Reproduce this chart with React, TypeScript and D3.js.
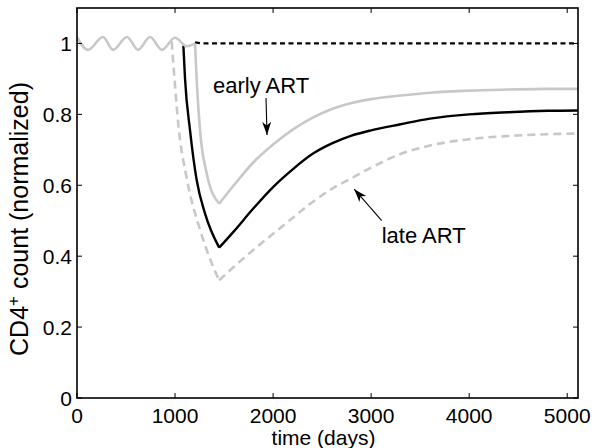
import React from 'react';
import * as d3 from 'd3';

// ---- data ----
const xTickValues = [0, 1000, 2000, 3000, 4000, 5000];
const xTickLabels = ['0', '1000', '2000', '3000', '4000', '5000'];
const yTickValues = [0, 0.2, 0.4, 0.6, 0.8, 1];
const yTickLabels = ['0', '0.2', '0.4', '0.6', '0.8', '1'];

// shared pre-treatment oscillation (peaks and troughs)
const waveDays = [0, 112, 265, 367, 510, 622, 745, 867, 1000, 1122, 1204];
const waveValues = [1.018, 0.982, 1.018, 0.982, 1.018, 0.982, 1.018, 0.982, 1.016, 0.992, 1.0];

// uninfected / control (black dashed)
const controlDays = [1204, 1300, 2000, 3000, 4000, 5110];
const controlValues = [1.003, 1.0, 1.0, 1.0, 1.0, 1.0];

// early ART (grey solid)
const earlyDays = [1204, 1221, 1255, 1323, 1450, 1600, 1800, 2000, 2200, 2400, 2600, 2800, 3000, 3300, 3600, 4000, 4400, 4800, 5110];
const earlyValues = [1.0, 0.896, 0.755, 0.633, 0.548, 0.6, 0.665, 0.715, 0.757, 0.79, 0.815, 0.832, 0.843, 0.853, 0.861, 0.867, 0.87, 0.872, 0.872];

// intermediate (black solid)
const midDays = [1085, 1102, 1153, 1221, 1306, 1450, 1600, 1800, 2000, 2200, 2400, 2600, 2800, 3000, 3300, 3600, 4000, 4400, 4800, 5110];
const midValues = [0.994, 0.9, 0.755, 0.614, 0.52, 0.424, 0.47, 0.535, 0.595, 0.645, 0.688, 0.718, 0.74, 0.755, 0.772, 0.788, 0.8, 0.806, 0.81, 0.811];

// late ART (grey dashed)
const lateDays = [966, 1000, 1034, 1119, 1255, 1374, 1450, 1600, 1800, 2000, 2200, 2400, 2600, 2800, 3000, 3300, 3600, 4000, 4400, 4800, 5110];
const lateValues = [1.005, 0.88, 0.77, 0.62, 0.475, 0.38, 0.332, 0.37, 0.418, 0.463, 0.508, 0.552, 0.59, 0.62, 0.65, 0.688, 0.712, 0.73, 0.739, 0.744, 0.746];

// annotations (data coordinates)
const annotations = [
  { text: 'early ART', tx: 1387, ty: 0.8603, ax1: 1928, ay1: 0.846, ax2: 1938, ay2: 0.742 },
  { text: 'late ART', tx: 3108, ty: 0.438, ax1: 3108, ay1: 0.5, ax2: 2828, ay2: 0.589 },
];

const W = 594;
const H = 448;
const GREY = '#c8c8c8';
const FONT = '"Liberation Sans", Arial, Helvetica, sans-serif';

export default function App() {
  const x = d3.scaleLinear().domain([0, 5110]).range([77, 578]);
  const y = d3.scaleLinear().domain([0, 1.1]).range([398, 8]);

  const line = d3
    .line<[number, number]>()
    .x((d) => x(d[0]))
    .y((d) => y(d[1]))
    .curve(d3.curveMonotoneX);

  const toPts = (days: number[], vals: number[]) =>
    days.map((d, i) => [d, vals[i]] as [number, number]);

  // split at the minimum so the V stays sharp
  const splitPath = (days: number[], vals: number[]) => {
    const pts = toPts(days, vals);
    const k = d3.minIndex(vals);
    return (line(pts.slice(0, k + 1)) || '') + (line(pts.slice(k)) || '');
  };

  const [x0, x1] = x.range();
  const [yb, yt] = y.range();
  const tickLen = 5;

  const arrowHead = (x1p: number, y1p: number, x2p: number, y2p: number) => {
    const ang = Math.atan2(y2p - y1p, x2p - x1p);
    const L = 13;
    const Wd = 4.5;
    const notch = 9.5;
    const c = Math.cos(ang);
    const s = Math.sin(ang);
    const p = (u: number, v: number) => [x2p - u * c - v * -s, y2p - u * s - v * c];
    const pts = [p(0, 0), p(L, Wd), p(notch, 0), p(L, -Wd)];
    return 'M' + pts.map((q) => q.join(',')).join('L') + 'Z';
  };

  return (
    <svg
      width={W}
      height={H}
      style={{ position: 'absolute', left: 0, top: 0, background: '#fff' }}
      fontFamily={FONT}
    >
      <rect x={0} y={0} width={W} height={H} fill="#fff" />

      {/* curves */}
      <path d={line(toPts(controlDays, controlValues)) || ''} fill="none" stroke="#000" strokeWidth={2.3} strokeDasharray="5,3.5" />
      <path d={splitPath(lateDays, lateValues)} fill="none" stroke={GREY} strokeWidth={2.6} strokeDasharray="8,5" />
      <path d={splitPath(midDays, midValues)} fill="none" stroke="#000" strokeWidth={2.4} />
      <path d={splitPath(earlyDays, earlyValues)} fill="none" stroke={GREY} strokeWidth={2.6} />
      <path d={line(toPts(waveDays, waveValues)) || ''} fill="none" stroke={GREY} strokeWidth={2.6} />

      {/* axes box */}
      <rect x={x0} y={yt} width={x1 - x0} height={yb - yt} fill="none" stroke="#000" strokeWidth={1.6} />

      {/* x ticks */}
      {xTickValues.map((v, i) => (
        <g key={'xt' + i}>
          <line x1={x(v)} x2={x(v)} y1={yb} y2={yb - tickLen} stroke="#000" strokeWidth={1} />
          <line x1={x(v)} x2={x(v)} y1={yt} y2={yt + tickLen} stroke="#000" strokeWidth={1} />
          <text x={x(v)} y={423} textAnchor="middle" fontSize={21}>
            {xTickLabels[i]}
          </text>
        </g>
      ))}

      {/* y ticks */}
      {yTickValues.map((v, i) => (
        <g key={'yt' + i}>
          <line x1={x0} x2={x0 + tickLen} y1={y(v)} y2={y(v)} stroke="#000" strokeWidth={1} />
          <line x1={x1} x2={x1 - tickLen} y1={y(v)} y2={y(v)} stroke="#000" strokeWidth={1} />
          <text x={72} y={y(v)} dy="0.36em" textAnchor="end" fontSize={21}>
            {yTickLabels[i]}
          </text>
        </g>
      ))}

      {/* axis labels */}
      <text x={(x0 + x1) / 2 - 4} y={445} textAnchor="middle" fontSize={21}>
        time (days)
      </text>
      <text transform="translate(28,219) rotate(-90)" textAnchor="middle" fontSize={25}>
        CD4
        <tspan dy="-9" fontSize={17}>+</tspan>
        <tspan dy="9"> count (normalized)</tspan>
      </text>

      {/* annotations */}
      {annotations.map((a, i) => {
        const sx = x(a.ax1);
        const sy = y(a.ay1);
        const ex = x(a.ax2);
        const ey = y(a.ay2);
        return (
          <g key={'an' + i}>
            <text x={x(a.tx)} y={y(a.ty)} fontSize={22}>
              {a.text}
            </text>
            <line x1={sx} y1={sy} x2={ex} y2={ey} stroke="#000" strokeWidth={1.1} />
            <path d={arrowHead(sx, sy, ex, ey)} fill="#000" />
          </g>
        );
      })}
    </svg>
  );
}
